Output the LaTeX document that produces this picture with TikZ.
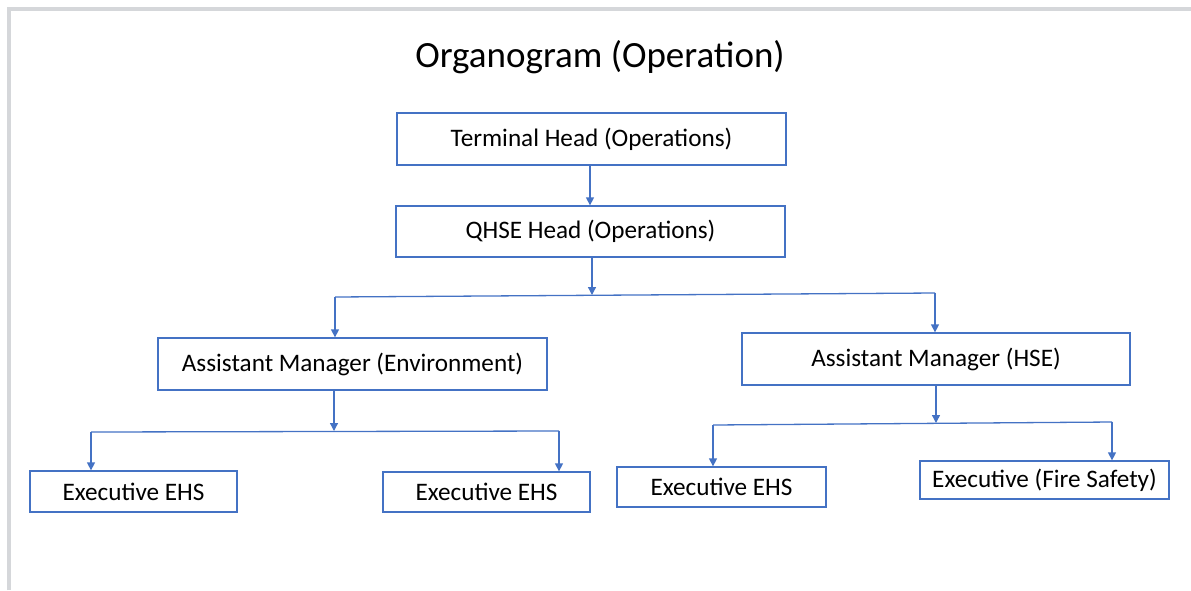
\documentclass[tikz,border=0pt]{standalone}
\usepackage{fontspec}
\setmainfont{Carlito}
\usetikzlibrary{arrows.meta,positioning}

\definecolor{boxblue}{HTML}{4472C4}
\definecolor{framegray}{HTML}{D5D7DA}

\tikzset{
  post/.style={draw=boxblue, line width=1.3pt, fill=white, inner sep=0pt,
    font=\fontsize{25.2}{29}\selectfont},
  link/.style={draw=boxblue, line width=1.3pt},
  down/.style={link, -{Triangle[width=8pt,length=8pt]}},
}

\begin{document}
\begin{tikzpicture}[x=1pt,y=-1pt]
\useasboundingbox (0,0) rectangle (1191,590);
% frame along the top and left side
\draw[framegray, line width=4pt] (9,590) -- (9,9) -- (1191,9);

\node (title) at (600,57) {\fontsize{37}{44}\selectfont Organogram (Operation)};

% top of the chart
\node[post, minimum width=389pt, minimum height=52pt] (term) at (591.5,139) {Terminal Head (Operations)};
\node[post, minimum width=389pt, minimum height=51pt] (qhse) at (590.5,231.5) {QHSE Head (Operations)};

% assistant managers
\node[post, minimum width=389pt, minimum height=52pt] (amenv) at (352.5,364) {Assistant Manager (Environment)};
\node[post, minimum width=388pt, minimum height=52pt] (amhse) at (936,359) {Assistant Manager (HSE)};

% executives
\node[post, minimum width=207pt, minimum height=41pt] (exa) at (133.5,491.5) {Executive EHS};
\node[post, minimum width=207pt, minimum height=40pt] (exb) at (486.5,492) {Executive EHS};
\node[post, minimum width=209pt, minimum height=40pt] (exc) at (721.5,487) {Executive EHS};
\node[post, minimum width=249pt, minimum height=38pt] (exd) at (1044.5,480) {Executive (Fire Safety)};

% branch points
\coordinate (j1) at (592,295);
\coordinate (b1l) at (335,297);
\coordinate (b1r) at (935,293);
\coordinate (j2) at (334,431);
\coordinate (b2l) at (91,432);
\coordinate (b2r) at (559,431);
\coordinate (j3) at (936,423);
\coordinate (b3l) at (713,425);
\coordinate (b3r) at (1112,422);

\draw[down] (term.south -| 590,0) -- (qhse.north -| 590,0);
\draw[down] (qhse.south -| j1) -- (j1);
\draw[link] (b1l) -- (b1r);
\draw[down] (b1l) -- (b1l |- amenv.north);
\draw[down] (b1r) -- (b1r |- amhse.north);

\draw[down] (amenv.south -| j2) -- (j2);
\draw[link] (b2l) -- (b2r);
\draw[down] (b2l) -- (b2l |- exa.north);
\draw[down] (b2r) -- (b2r |- exb.north);

\draw[down] (amhse.south -| j3) -- (j3);
\draw[link] (b3l) -- (b3r);
\draw[down] (b3l) -- (b3l |- exc.north);
\draw[down] (b3r) -- (b3r |- exd.north);
\end{tikzpicture}
\end{document}
